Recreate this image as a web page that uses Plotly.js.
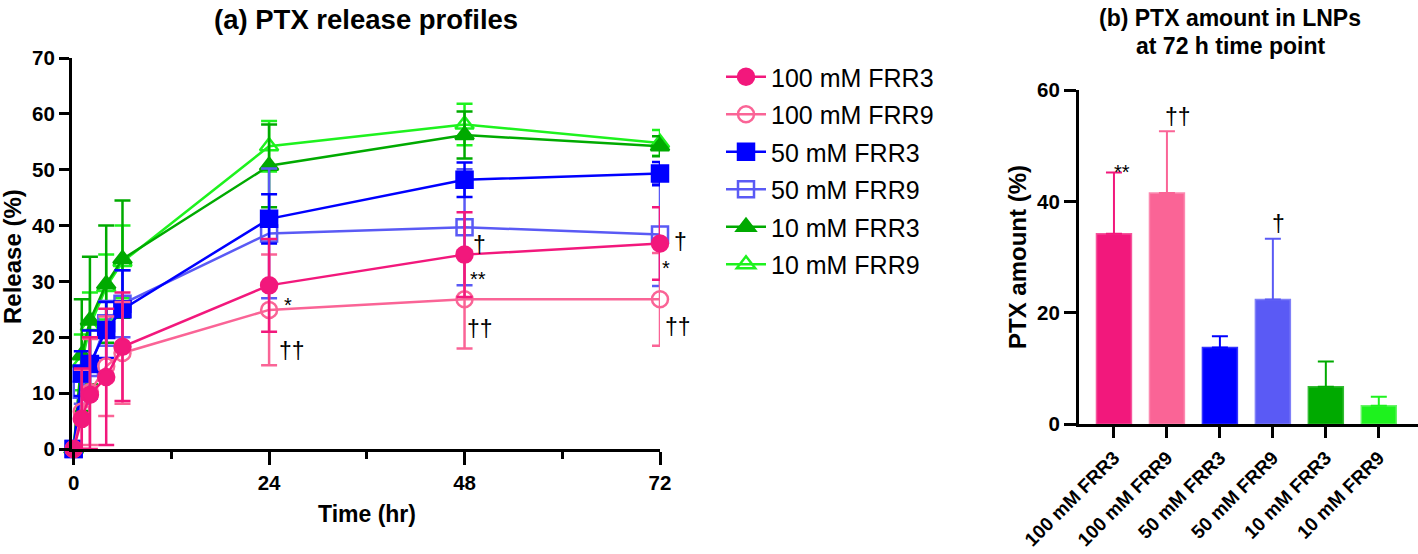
<!DOCTYPE html>
<html>
<head>
<meta charset="utf-8">
<script src="https://cdn.plot.ly/plotly-3.0.1.min.js"></script>
<style>html,body{margin:0;padding:0;background:#fff;}#chart{width:1418px;height:554px;}</style>
</head>
<body>
<div id="chart"></div>
<script>
// ---------- data: (a) release profiles ----------
const timePoints = [0, 1, 2, 4, 6, 24, 48, 72];
const seriesNames = ["100 mM FRR3", "100 mM FRR9", "50 mM FRR3", "50 mM FRR9", "10 mM FRR3", "10 mM FRR9"];
const rel100F3 = [0, 5.4, 9.7, 12.9, 18.3, 29.3, 34.8, 36.8];
const sd100F3  = [0, 9.0, 10.3, 12.2, 9.7, 8.3, 7.6, 6.5];
const rel100F9 = [0, 6.7, 10.2, 14.8, 17.2, 24.9, 26.8, 26.8];
const sd100F9  = [0, 7.5, 9.5, 8.9, 9.1, 9.9, 8.8, 8.3];
const rel50F3  = [0, 13.5, 15.2, 21.3, 25.0, 41.2, 48.2, 49.3];
const sd50F3   = [0, 4.0, 6.0, 5.0, 7.0, 4.4, 3.1, 2.1];
const rel50F9  = [0, 10.6, 14.5, 22.5, 26.0, 38.6, 39.7, 38.4];
const sd50F9   = [0, 2.5, 5.5, 4.0, 6.0, 11.6, 10.4, 9.2];
const rel10F3  = [0, 16.8, 23.0, 29.5, 34.0, 50.7, 56.2, 54.2];
const sd10F3   = [0, 10.0, 11.4, 10.5, 10.5, 7.4, 4.2, 1.8];
const rel10F9  = [0, 15.5, 22.0, 29.0, 33.5, 54.2, 58.1, 54.8];
const sd10F9   = [0, 5.0, 6.0, 5.8, 6.5, 4.5, 3.7, 2.3];
const xTickVals = [0, 24, 48, 72];
const xMinorVals = [12, 36, 60];
// significance marks on (a): anchored at a time point, nudged in pixels
const sigText  = ["*", "††", "†", "**", "††", "†", "*", "††"];
const sigX     = [24, 24, 48, 48, 48, 72, 72, 72];
const sigY     = [26.8, 17.5, 36.6, 31.4, 21.4, 37.0, 33.4, 21.8];
const sigShift = [19, 23, 15, 13, 15, 20, 6, 18];

// ---------- data: (b) PTX amount at 72 h ----------
const barCats = ["100 mM FRR3", "100 mM FRR9", "50 mM FRR3", "50 mM FRR9", "10 mM FRR3", "10 mM FRR9"];
const barVals = [34.2, 41.5, 13.8, 22.4, 6.75, 3.35];
const barSD   = [11.0, 11.1, 2.0, 10.9, 4.5, 1.6];
const barSigText = ["**", "††", "†"];
const barSigX    = [0.16, 1.2, 3.1];
const barSigY    = [46.2, 55.1, 36.0];

// ---------- styles ----------
const colors = ["#F2187C", "#FA6496", "#0000FF", "#5A5AF5", "#00AA00", "#1EF21E"];
const barLine = ["#F5559C", "#FC8AB1", "#3333FF", "#8080F8", "#33BB33", "#66F566"];
const symbols = ["circle", "circle-open", "square", "square-open", "triangle-up", "triangle-up-open"];
const means = [rel100F3, rel100F9, rel50F3, rel50F9, rel10F3, rel10F9];
const sds = [sd100F3, sd100F9, sd50F3, sd50F9, sd10F3, sd10F9];
const FONT = "Arial, 'Liberation Sans', sans-serif";

const traces = [];
for (let i = seriesNames.length - 1; i >= 0; i--) {
  traces.push({
    type: "scatter", mode: "lines+markers",
    name: seriesNames[i], legendgroup: "g" + i, legendrank: i + 1,
    x: timePoints, y: means[i],
    xaxis: "x", yaxis: "y", cliponaxis: false,
    line: {color: colors[i], width: 2.5},
    marker: {symbol: symbols[i], size: 16, color: colors[i], line: {color: colors[i], width: 2.5}},
    error_y: {type: "data", symmetric: false, array: sds[i],
      arrayminus: sds[i].map((s, k) => Math.min(s, means[i][k])),
      color: colors[i], thickness: 2.5, width: 8}
  });
}
traces.push({
  type: "bar", x: barCats, y: barVals, xaxis: "x2", yaxis: "y2",
  width: 0.66, showlegend: false,
  marker: {color: colors, line: {color: barLine, width: 1.5}}
});
// upper error bars, one per bar so each takes its bar's colour
const barErrTraces = barCats.map((c, i) => ({
  type: "scatter", mode: "markers", x: [c], y: [barVals[i]], xaxis: "x2", yaxis: "y2",
  showlegend: false, hoverinfo: "skip", marker: {size: 1, color: "rgba(0,0,0,0)"},
  error_y: {type: "data", symmetric: false, array: [barSD[i]], arrayminus: [0],
    color: colors[i], thickness: 2, width: 8}
}));

const px = v => v / 1418, py = v => 1 - v / 554;
const annotations = [];
sigText.forEach((t, i) => annotations.push({
  xref: "x", yref: "y", x: sigX[i], y: t.indexOf("*") >= 0 ? sigY[i] - 1.0 : sigY[i],
  xshift: sigShift[i],
  text: t, showarrow: false, xanchor: "center", yanchor: "middle",
  font: {family: FONT, size: t.indexOf("*") >= 0 ? 20 : 23, color: "#000"}
}));
barSigText.forEach((t, i) => annotations.push({
  xref: "x2", yref: "y2", x: barSigX[i], y: t.indexOf("*") >= 0 ? barSigY[i] - 1.0 : barSigY[i],
  text: t, showarrow: false, xanchor: "center", yanchor: "middle",
  font: {family: FONT, size: t.indexOf("*") >= 0 ? 20 : 23, color: "#000"}
}));
annotations.push(
  {xref: "paper", yref: "paper", x: px(366), y: py(19), text: "(a) PTX release profiles", showarrow: false,
   xanchor: "center", yanchor: "middle", font: {family: FONT, size: 27.5, weight: "bold", color: "#000"}},
  {xref: "paper", yref: "paper", x: px(1230), y: py(18), text: "(b) PTX amount in LNPs", showarrow: false,
   xanchor: "center", yanchor: "middle", font: {family: FONT, size: 23, weight: "bold", color: "#000"}},
  {xref: "paper", yref: "paper", x: px(1230), y: py(46), text: "at 72 h time point", showarrow: false,
   xanchor: "center", yanchor: "middle", font: {family: FONT, size: 23, weight: "bold", color: "#000"}},
  {xref: "paper", yref: "paper", x: px(367), y: py(514), text: "Time (hr)", showarrow: false,
   xanchor: "center", yanchor: "middle", font: {family: FONT, size: 23, weight: "bold", color: "#000"}},
  {xref: "paper", yref: "paper", x: px(13), y: py(257), text: "Release (%)", showarrow: false, textangle: -90,
   xanchor: "center", yanchor: "middle", font: {family: FONT, size: 24, weight: "bold", color: "#000"}},
  {xref: "paper", yref: "paper", x: px(1018), y: py(257), text: "PTX amount (%)", showarrow: false, textangle: -90,
   xanchor: "center", yanchor: "middle", font: {family: FONT, size: 24, weight: "bold", color: "#000"}}
);

const axisCommon = {
  showline: true, linecolor: "#000", linewidth: 3, showgrid: false, zeroline: false,
  ticks: "outside", tickcolor: "#000", tickwidth: 3, ticklen: 10,
  tickfont: {family: FONT, size: 20.5, weight: "bold", color: "#000"}
};
const layout = {
  width: 1418, height: 554, margin: {l: 0, r: 0, t: 0, b: 0},
  paper_bgcolor: "#fff", plot_bgcolor: "rgba(0,0,0,0)",
  font: {family: FONT, color: "#000"},
  xaxis: Object.assign({}, axisCommon, {
    domain: [px(72), px(660)], range: [-0.2, 72], anchor: "y",
    tickmode: "array", tickvals: xTickVals, ticklen: 13,
    minor: {tickvals: xMinorVals, ticks: "outside", ticklen: 7, tickwidth: 3, tickcolor: "#000", showgrid: false}
  }),
  yaxis: Object.assign({}, axisCommon, {
    domain: [1 - 449 / 554, 1 - 58 / 554], range: [0, 70], dtick: 10, anchor: "x"
  }),
  xaxis2: Object.assign({}, axisCommon, {
    domain: [px(1079), 1], range: [-0.66, 5.74], anchor: "y2", type: "category",
    tickangle: -45, ticklen: 11, ticklabelstandoff: 1,
    tickfont: {family: FONT, size: 19, weight: "bold", color: "#000"}
  }),
  yaxis2: Object.assign({}, axisCommon, {
    domain: [1 - 424.3 / 554, 1 - 90 / 554], range: [0, 60], dtick: 20, anchor: "x2", ticklen: 12
  }),
  showlegend: true,
  legend: {
    x: px(721), y: py(54), xanchor: "left", yanchor: "top",
    traceorder: "grouped", tracegroupgap: 2, itemwidth: 40,
    font: {family: FONT, size: 25, color: "#000"}, bgcolor: "rgba(0,0,0,0)"
  },
  annotations: annotations
};

Plotly.newPlot("chart", traces.concat(barErrTraces), layout, {displayModeBar: false, staticPlot: true});
</script>
</body>
</html>
